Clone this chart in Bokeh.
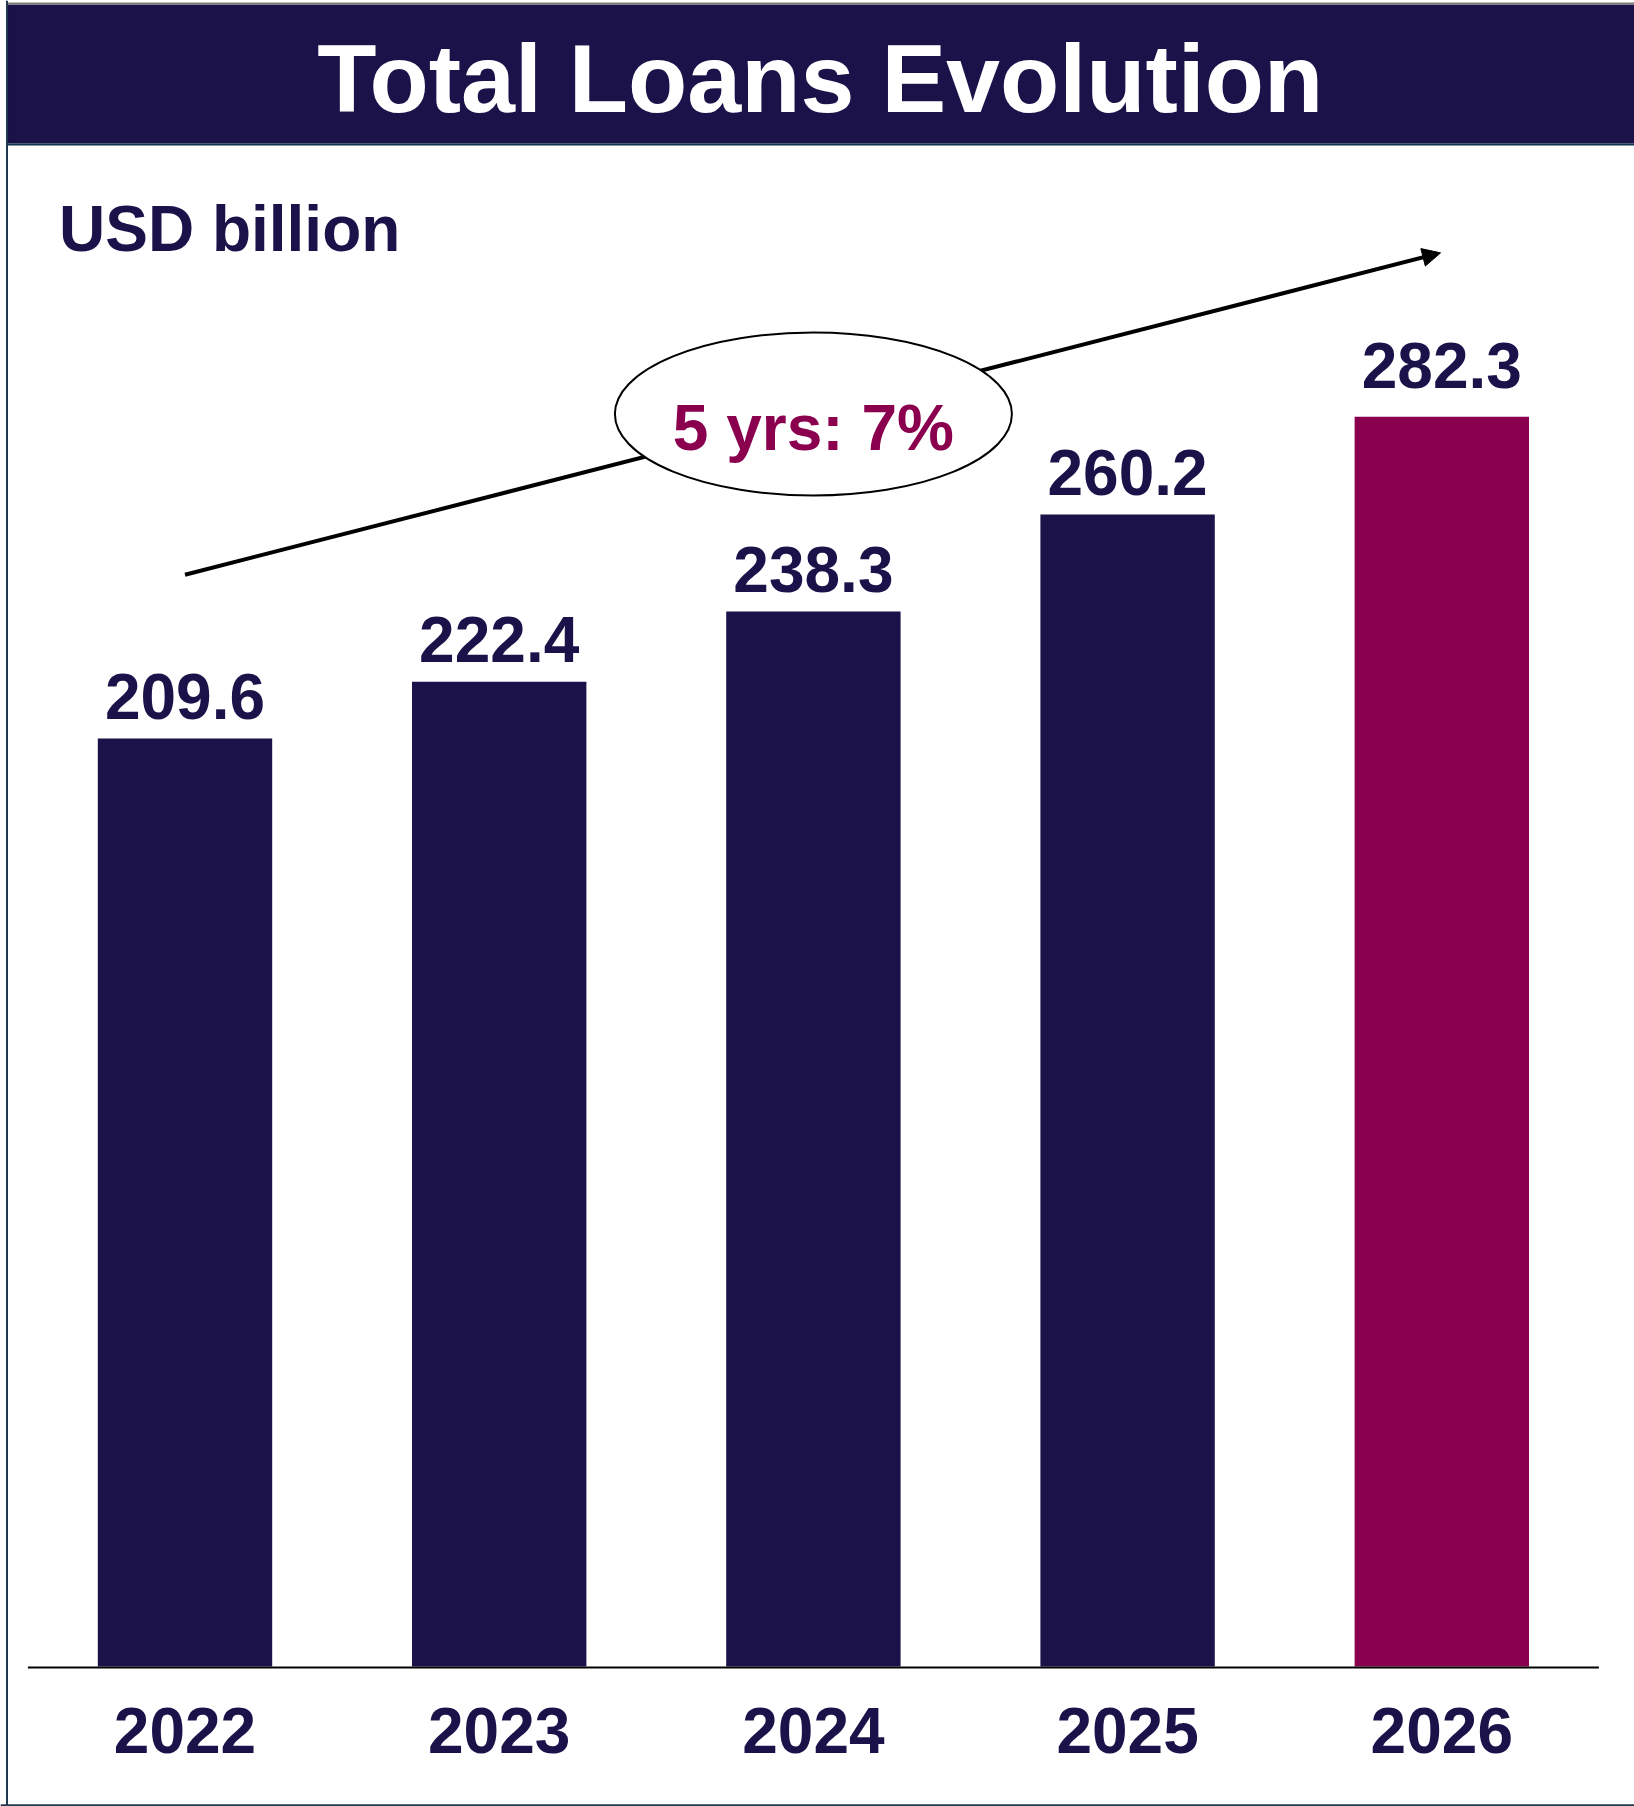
from bokeh.plotting import figure
from bokeh.models import Range1d, ColumnDataSource, Arrow, NormalHead, Span
from bokeh.core.properties import value
from bokeh.embed import file_html
from bokeh.resources import INLINE

# ---- data ----
years = ["2022", "2023", "2024", "2025", "2026"]
loans = [209.6, 222.4, 238.3, 260.2, 282.3]
title_text = "Total Loans Evolution"
unit_text = "USD billion"
cagr_text = "5 yrs: 7%"

# ---- styles ----
NAVY = "#1B124A"
MAGENTA = "#8A004F"
FONT = value("Liberation Sans")

xs = list(range(len(years)))
bar_colors = [NAVY] * (len(years) - 1) + [MAGENTA]
label_offsets = [-42, -42, -42, -42, -51]

src = ColumnDataSource(dict(
    x=xs, top=loans, year=years, color=bar_colors,
    label=[f"{v:.1f}" for v in loans], yoff=label_offsets,
    base=[0] * len(years), ylab=[-19.4] * len(years),
))

W, H = 1634, 1806
p = figure(width=W, height=H, output_backend="svg", toolbar_location=None,
           x_range=Range1d(-0.5872, 4.6133), y_range=Range1d(-31.62, 376.3),
           min_border=0, min_border_left=0, min_border_right=0,
           min_border_top=0, min_border_bottom=0)
p.xaxis.visible = False
p.yaxis.visible = False
p.grid.visible = False
p.outline_line_color = None
p.background_fill_color = "white"
p.border_fill_color = "white"

# title bar
p.quad(left=[-0.565], right=[4.7], bottom=[344.0], top=[375.4],
       fill_color=NAVY, line_color=None)
p.segment(x0=[-0.566], x1=[4.7], y0=[375.6], y1=[375.6], line_color="#7F7B78", line_width=2)
p.segment(x0=[-0.5665], x1=[-0.5665], y0=[344.0], y1=[375.6], line_color="#7F7B78", line_width=2)
p.segment(x0=[-0.565], x1=[4.7], y0=[343.8], y1=[343.8], line_color="#12334A", line_width=2)
p.text(x=[2.022], y=[351.1], text=[title_text], text_font=FONT, text_font_style="bold",
       text_font_size="97px", text_color="white", text_align="center",
       text_baseline="alphabetic", y_offset=-34)

# chart frame borders (left, bottom)
p.add_layout(Span(location=-0.5665, dimension="height", line_color="#22384E", line_width=2))
p.add_layout(Span(location=-31.35, dimension="width", line_color="#22384E", line_width=2))

# unit label
p.text(x=[-0.401], y=[319.8], text=[unit_text], text_font=FONT, text_font_style="bold",
       text_font_size="64px", text_color=NAVY, text_align="left",
       text_baseline="alphabetic", y_offset=-22)

# growth arrow (under the ellipse)
p.add_layout(Arrow(x_start=0.0, y_start=246.6, x_end=3.996, y_end=319.3,
                   line_width=4, line_color="black", level="underlay",
                   end=NormalHead(size=18, fill_color="black", line_color="black", line_width=1)))

# bars
p.vbar(x="x", top="top", bottom="base", width=0.555, fill_color="color",
       line_color=None, source=src)

# baseline axis line
p.segment(x0=[-0.5], x1=[4.5], y0=[-0.2], y1=[-0.2], line_color="black", line_width=2)

# value labels
p.text(x="x", y="top", text="label", y_offset="yoff", source=src, text_font=FONT,
       text_font_style="bold", text_font_size="64px", text_color=NAVY,
       text_align="center", text_baseline="alphabetic")

# year labels
p.text(x="x", y="ylab", text="year", source=src, text_font=FONT,
       text_font_style="bold", text_font_size="64px", text_color=NAVY,
       text_align="center", text_baseline="alphabetic", y_offset=-22)

# CAGR ellipse
p.ellipse(x=[2.0], y=[282.9], width=397, height=163, width_units="screen",
          height_units="screen", fill_color="white", line_color="black", line_width=2)
p.text(x=[2.0], y=[274.7], text=[cagr_text], text_font=FONT, text_font_style="bold",
       text_font_size="64px", text_color=MAGENTA, text_align="center",
       text_baseline="alphabetic", y_offset=-22)

open("out.html", "w").write(file_html(p, INLINE))
